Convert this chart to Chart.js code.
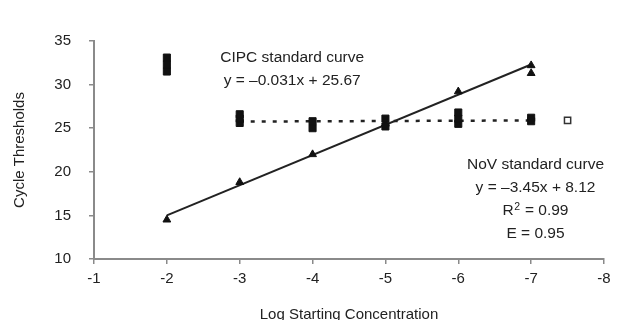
<!DOCTYPE html>
<html>
<head>
<meta charset="utf-8">
<script src="https://cdn.jsdelivr.net/npm/chart.js@4/dist/chart.umd.min.js"></script>
<style>
  html, body { margin: 0; padding: 0; background: #fff; }
  #wrap { width: 623px; height: 320px; }
</style>
</head>
<body>
<div id="wrap"><canvas id="c" width="623" height="320"></canvas></div>
<script>
// NoV standard curve replicates (triangles)
const novX = [-2, -3, -4, -5, -6, -7, -7];
const novY = [14.5, 18.8, 22.0, 25.5, 29.2, 32.2, 31.3];
// NoV fitted line end points
const novFitX = [-2, -7];
const novFitY = [15.0, 32.3];
// CIPC replicates (filled squares)
const cipcX = [-2, -2, -2, -3, -3, -3, -4, -4, -5, -5, -6, -6, -6, -7, -7];
const cipcY = [31.5, 32.3, 33.1, 25.6, 26.1, 26.6, 25.0, 25.8, 25.2, 26.1, 25.5, 26.1, 26.8, 25.8, 26.2];
// CIPC open square
const cipcOpenX = [-7.5];
const cipcOpenY = [25.9];
// CIPC fitted (dotted) line end points
const cipcFitX = [-3, -7];
const cipcFitY = [25.76, 25.89];
// axis ticks
const xTicks = [-1, -2, -3, -4, -5, -6, -7, -8];
const yTicks = [10, 15, 20, 25, 30, 35];
// annotations
const cipcLabel = ["CIPC standard curve", "y = \u20130.031x + 25.67"];
const novLabel = ["NoV standard curve", "y = \u20133.45x + 8.12", "R\u00b2 = 0.99", "E = 0.95"];

const pts = (xs, ys) => xs.map((x, i) => ({ x: x, y: ys[i] }));

const FONT = "'Liberation Sans', Arial, sans-serif";

const textPlugin = {
  id: 'texts',
  afterDatasetsDraw(chart) {
    const ctx = chart.ctx;
    const xs = chart.scales.x, ys = chart.scales.y;
    ctx.save();
    ctx.fillStyle = '#222';
    ctx.font = '15.5px ' + FONT;
    ctx.textAlign = 'center';
    ctx.textBaseline = 'middle';
    const cx = xs.getPixelForValue(-3.72), cy = ys.getPixelForValue(33.1);
    cipcLabel.forEach((t, i) => ctx.fillText(t, cx, cy + i * 23));
    const nx = xs.getPixelForValue(-7.06), ny = ys.getPixelForValue(20.8);
    novLabel.forEach((t, i) => {
      if (t.indexOf('\u00b2') >= 0) {
        const base = 'R', rest = ' = 0.99';
        ctx.font = '15.5px ' + FONT;
        const wB = ctx.measureText(base).width;
        const wR = ctx.measureText(rest).width;
        ctx.font = '10.5px ' + FONT;
        const wS = ctx.measureText('2').width + 1;
        const total = wB + wS + wR;
        const x0 = nx - total / 2;
        const y0 = ny + i * 23;
        ctx.textAlign = 'left';
        ctx.font = '15.5px ' + FONT;
        ctx.fillText(base, x0, y0);
        ctx.font = '10.5px ' + FONT;
        ctx.fillText('2', x0 + wB + 0.5, y0 - 4);
        ctx.font = '15.5px ' + FONT;
        ctx.fillText(rest, x0 + wB + wS, y0);
        ctx.textAlign = 'center';
      } else {
        ctx.fillText(t, nx, ny + i * 23);
      }
    });
    ctx.restore();
  }
};

new Chart(document.getElementById('c'), {
  type: 'scatter',
  data: {
    datasets: [
      {
        type: 'line',
        data: pts(novFitX, novFitY),
        borderColor: '#222',
        borderWidth: 2,
        pointRadius: 0,
        fill: false,
        order: 5
      },
      {
        type: 'line',
        data: pts(cipcFitX, cipcFitY),
        borderColor: '#222',
        borderWidth: 2.5,
        borderDash: [4, 7],
        pointRadius: 0,
        fill: false,
        order: 4
      },
      {
        data: pts(novX, novY),
        pointStyle: 'triangle',
        pointRadius: 4.5,
        backgroundColor: '#111',
        borderColor: '#111',
        borderWidth: 1,
        order: 3
      },
      {
        data: pts(cipcX, cipcY),
        pointStyle: 'rect',
        pointRadius: 5,
        backgroundColor: '#111',
        borderColor: '#111',
        borderWidth: 1,
        order: 2
      },
      {
        data: pts(cipcOpenX, cipcOpenY),
        pointStyle: 'rect',
        pointRadius: 4.4,
        backgroundColor: '#fff',
        borderColor: '#333',
        borderWidth: 1.5,
        order: 1
      }
    ]
  },
  options: {
    responsive: false,
    animation: false,
    devicePixelRatio: 1,
    layout: { padding: { top: 41, right: 19, bottom: 0, left: 0 } },
    plugins: { legend: { display: false }, tooltip: { enabled: false } },
    scales: {
      x: {
        type: 'linear',
        reverse: true,
        min: -8,
        max: -1,
        afterBuildTicks(s) { s.ticks = xTicks.map(v => ({ value: v })); },
        afterFit(s) { s.height = 61; },
        ticks: { color: '#222', font: { family: FONT, size: 15 }, padding: 6, maxRotation: 0 },
        grid: { drawOnChartArea: false, drawTicks: true, tickLength: 5, color: '#8a8a8a', lineWidth: 1.5 },
        border: { color: '#8a8a8a', width: 2 },
        title: { display: true, text: 'Log Starting Concentration', color: '#222', font: { family: FONT, size: 15, lineHeight: 1 }, padding: { top: 0, bottom: -2 } }
      },
      y: {
        type: 'linear',
        min: 10,
        max: 35,
        afterBuildTicks(s) { s.ticks = yTicks.map(v => ({ value: v })); },
        afterFit(s) { s.width = 94; },
        ticks: { color: '#222', font: { family: FONT, size: 15 }, padding: 18 },
        grid: { drawOnChartArea: false, drawTicks: true, tickLength: 5, color: '#8a8a8a', lineWidth: 1.5 },
        border: { color: '#8a8a8a', width: 2 },
        title: { display: true, text: 'Cycle Thresholds', color: '#222', font: { family: FONT, size: 15, lineHeight: 1.2 }, padding: { top: 11, bottom: 0 } }
      }
    }
  },
  plugins: [textPlugin]
});
</script>
</body>
</html>
